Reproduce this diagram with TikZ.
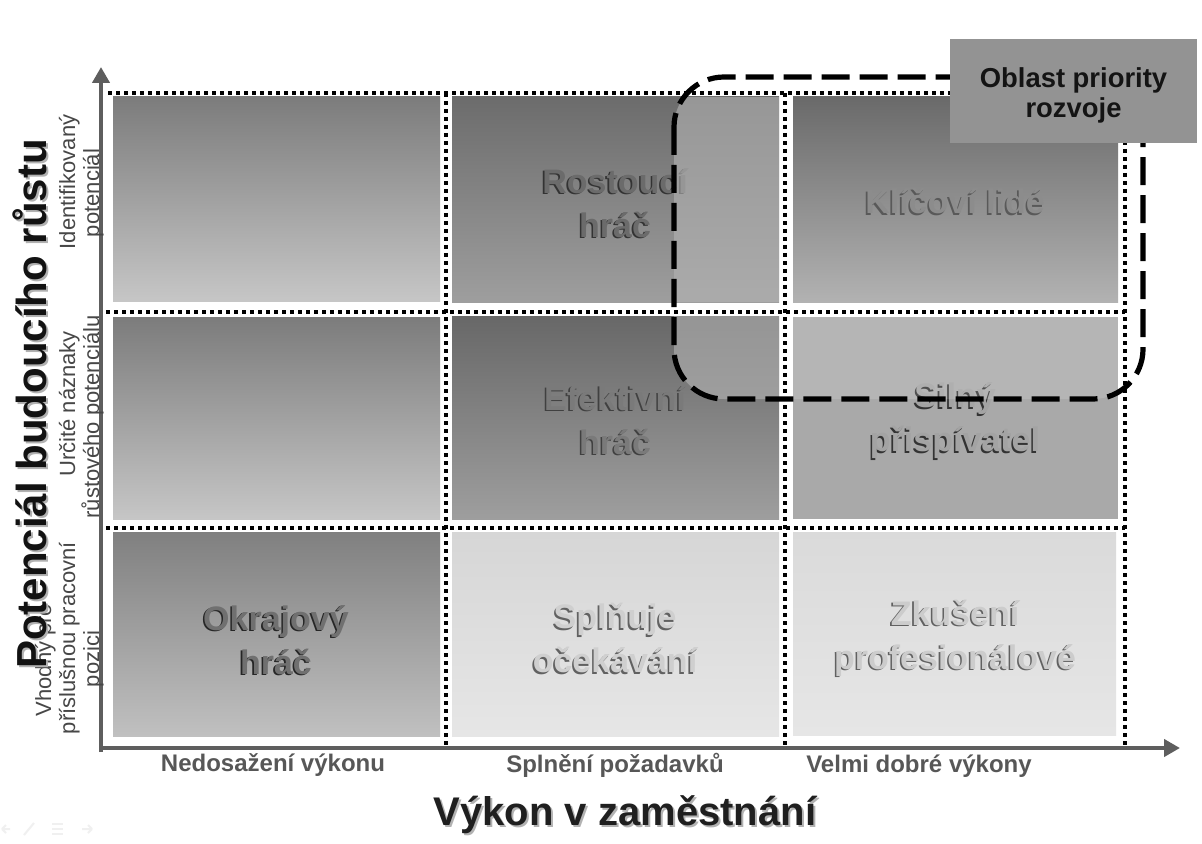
\documentclass[tikz,border=0pt]{standalone}
\usepackage{fontspec}
\setmainfont{Liberation Sans}
\usetikzlibrary{arrows.meta,calc}
\definecolor{axisgray}{HTML}{5E5E5E}
\definecolor{boxgray}{HTML}{939393}
\definecolor{cAt}{HTML}{7C7C7C}\definecolor{cAb}{HTML}{C6C6C6}
\definecolor{cDt}{HTML}{6C6C6C}\definecolor{cDb}{HTML}{9E9E9E}
\definecolor{cLt}{HTML}{D6D6D6}\definecolor{cLb}{HTML}{E6E6E6}
\definecolor{cKt}{HTML}{6A6A6A}\definecolor{cKb}{HTML}{B2B2B2}
\definecolor{cS}{HTML}{A9A9A9}
\definecolor{ovl}{HTML}{B4B4B4}
\newcommand{\embtext}[5]{%
  \node[celltxt, text=#4] at ($(#1)+(-1.6,1.6)$) {#5};
  \node[celltxt, text=#3] (#2) at (#1) {#5};}
\begin{document}
\begin{tikzpicture}[x=0.5pt,y=-0.5pt,
  axis/.style={draw=axisgray, line width=2.3pt, -{Triangle[length=8pt,width=8.5pt]}},
  dotline/.style={draw=black, line width=2pt, dash pattern=on 2pt off 2pt},
  dashbox/.style={draw=black, line width=2.6pt, dash pattern=on 14pt off 5pt, rounded corners=25pt},
  celltxt/.style={font=\bfseries\fontsize{17}{22}\selectfont, align=center, inner sep=0pt},
  ylab/.style={font=\fontsize{11}{12}\selectfont, text=black!72, rotate=90, anchor=base, inner sep=0pt},
  xlab/.style={font=\bfseries\fontsize{12}{14}\selectfont, text=black!66, anchor=base, inner sep=0pt},
  icon/.style={draw=black!6, line width=1pt},
]
\path[use as bounding box, fill=white] (0,0) rectangle (1202,844);

% cells
\fill[top color=cAt, bottom color=cAb] (113,97) rectangle (440,301);
\fill[top color=cAt, bottom color=cAb] (113,317) rectangle (440,519);
\fill[top color=cAt!97!white, bottom color=cAb!97!black] (113,532) rectangle (440,736);
\fill[top color=cDt, bottom color=cDb] (452,97) rectangle (779,302);
\fill[top color=cDt!96!black, bottom color=cDb] (452,316) rectangle (779,519);
\fill[top color=cLt, bottom color=cLb] (452,532) rectangle (779,736);
\fill[top color=cKt, bottom color=cKb] (793,97) rectangle (1118,302);
\fill[cS] (793,317) rectangle (1118,519);
\fill[top color=cLt!90!white, bottom color=cLb] (793,532) rectangle (1116,735);

% cell texts
\embtext{615,203}{rost}{black!58}{black!80}{Rostoucí\\hráč}
\embtext{955,201}{klic}{black!45}{black!65}{Klíčoví lidé}
\embtext{615,420}{efek}{black!52}{black!75}{Efektivní\\hráč}
\embtext{955,421}{siln}{black!36}{black!80}{Silný\\přispívatel}
\embtext{276,640}{okra}{black!56}{black!85}{Okrajový\\hráč}
\embtext{615,638}{splu}{black!19}{black!62}{Splňuje\\očekávání}
\embtext{955,638}{zkus}{black!20}{black!62}{Zkušení\\profesionálové}

% overlay of priority area
\begin{scope}
  \clip[rounded corners=25pt] (674,77) rectangle (1143,399);
  \fill[ovl, opacity=0.6] (452,97) rectangle (779,302);
  \fill[ovl, opacity=0.6] (452,316) rectangle (779,519);
  \fill[white, opacity=0.14] (793,317) rectangle (1118,519);
\end{scope}

% dotted grid
\draw[dotline] (108,93) -- (1125,93);
\draw[dotline] (106,312) -- (1125,312);
\draw[dotline] (106,528) -- (1125,528);
\draw[dotline] (446,93) -- (446,750);
\draw[dotline] (785,93) -- (785,750);
\draw[dotline] (1125,93) -- (1125,750);

% axes
\coordinate (yb) at (101,752);
\coordinate (yt) at (101,67);
\coordinate (xb) at (99,748);
\coordinate (xt) at (1180,748);
\draw[axis] (yb) -- (yt);
\draw[axis] (xb) -- (xt);

% priority region
\draw[dashbox] (674,77) rectangle (1143,399);
\fill[boxgray] (950,39) rectangle (1197,143);
\node[align=center, inner sep=0pt, font=\bfseries\fontsize{13.7}{15}\selectfont, text=black!92] (prio)
      at (1073.5,95) {Oblast priority\\rozvoje};

% axis sub labels
\node[xlab] (xl1) at (273,771) {Nedosažení výkonu};
\node[xlab] (xl2) at (615,772) {Splnění požadavků};
\node[xlab] (xl3) at (919,772) {Velmi dobré výkony};

\node[ylab] (yl1a) at (75,182) {Identifikovaný};
\node[ylab] (yl1b) at (99,193) {potenciál};
\node[ylab] (yl2a) at (75,404) {Určité náznaky};
\node[ylab] (yl2b) at (99,417) {růstového potenciálu};
\node[ylab] (yl3a) at (51,660) {Vhodný pro};
\node[ylab] (yl3b) at (75,638) {příslušnou pracovní};
\node[ylab] (yl3c) at (99,659) {pozici};

% axis titles
\node[font=\bfseries\fontsize{21}{24}\selectfont, text=black!30, rotate=90, anchor=base, inner sep=0pt]
  at (48.5,406) {Potenciál budoucího růstu};
\node[font=\bfseries\fontsize{21}{24}\selectfont, text=black!93, rotate=90, anchor=base, inner sep=0pt]
  (ytitle) at (46,404) {Potenciál budoucího růstu};
\node[font=\bfseries\fontsize{20}{24}\selectfont, text=black!30, anchor=base, inner sep=0pt]
  at (627,827.5) {Výkon v zaměstnání};
\node[font=\bfseries\fontsize{20}{24}\selectfont, text=black!88, anchor=base, inner sep=0pt]
  (xtitle) at (625,825) {Výkon v zaměstnání};

% faint navigation icons
\draw[icon] (2,829) -- (10,829) (2,829) -- (6,825) (2,829) -- (6,833);
\draw[icon] (24,835) -- (34,823);
\draw[icon] (52,824) -- (63,824) (52,829) -- (63,829) (52,834) -- (63,834);
\draw[icon] (82,829) -- (92,829) (92,829) -- (88,825) (92,829) -- (88,833);
\end{tikzpicture}
\end{document}
